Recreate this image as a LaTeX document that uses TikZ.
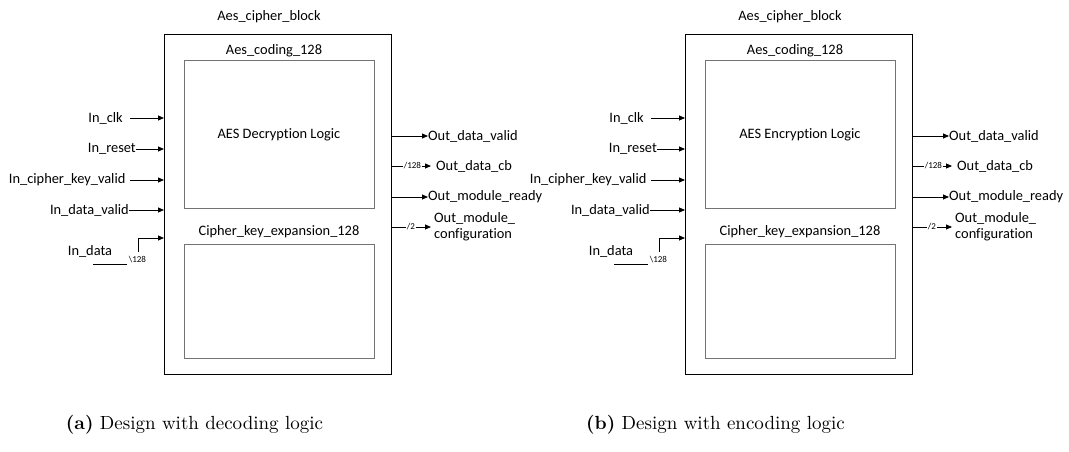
\documentclass[tikz,border=0pt]{standalone}
\usepackage{fontspec}
\newfontfamily\diagfont{Carlito}[Ligatures=NoCommon]
\newfontfamily\capfont{lmroman10-regular}[Extension=.otf, BoldFont=lmroman10-bold]
\usetikzlibrary{arrows.meta}
\tikzset{
  sig/.style={font=\diagfont\fontsize{14.4}{16}\selectfont, inner sep=0pt},
  buslbl/.style={font=\diagfont\fontsize{9}{10}\selectfont, inner sep=0.6pt},
  outerbox/.style={draw=black, line width=0.9pt, inner sep=0pt},
  innerbox/.style={draw=black!55, line width=1.1pt, inner sep=0pt},
  wire/.style={line width=0.8pt},
  arr/.style={wire, -{Triangle[length=6pt,width=5pt]}},
  figcap/.style={font=\capfont\fontsize{19}{22}\selectfont, inner sep=0pt}
}
% One cipher block with its ports; #1 name prefix, #2 horizontal offset,
% #3 logic title, #4 caption
\newcommand\aespanel[4]{%
  \begin{scope}[shift={(#2,0)}]
    \node[sig] (#1title) at (269,17) {Aes\_cipher\_block};
    \node[outerbox, anchor=north west, minimum width=227pt, minimum height=340pt] (#1blk) at (164,34) {};
    \node[innerbox, anchor=north west, minimum width=190pt, minimum height=148pt] (#1cod) at (184,60) {};
    \node[innerbox, anchor=north west, minimum width=190pt, minimum height=114pt] (#1key) at (184,244) {};
    \node[sig] (#1codlbl) at (274,51) {Aes\_coding\_128};
    \node[sig] (#1logic) at (279,135) {#3};
    \node[sig] (#1keylbl) at (279,232) {Cipher\_key\_expansion\_128};
    % inputs
    \node[sig, anchor=east] (#1clk) at (123,118) {In\_clk};
    \draw[arr] ([xshift=7pt]#1clk.east) -- (#1blk.west |- #1clk);
    \node[sig, anchor=east] (#1rst) at (136,149) {In\_reset};
    \draw[arr] (#1rst.east) -- (#1blk.west |- #1rst);
    \node[sig, anchor=east] (#1ckv) at (125.6,180) {In\_cipher\_key\_valid};
    \draw[arr] ([xshift=4.4pt]#1ckv.east) -- (#1blk.west |- #1ckv);
    \node[sig, anchor=east] (#1idv) at (129,210) {In\_data\_valid};
    \draw[arr] (#1idv.east) -- (#1blk.west |- #1idv);
    \node[sig] (#1din) at (90,251) {In\_data};
    \coordinate (#1d1) at (93,264);
    \coordinate (#1d2) at (127,264);
    \draw[wire] (#1d1) -- (#1d2);
    \node[buslbl, anchor=west] (#1b128i) at (128,260) {\textbackslash128};
    \coordinate (#1d3) at (138,252);
    \coordinate (#1d4) at (138,238);
    \draw[arr] (#1d3) -- (#1d4) -- (#1blk.west |- #1d4);
    % outputs
    \node[sig, anchor=west] (#1odv) at (428,136) {Out\_data\_valid};
    \draw[arr] (#1blk.east |- #1odv) -- (#1odv.west);
    \node[buslbl, anchor=west] (#1b128o) at (403,166) {/128};
    \node[sig, anchor=west] (#1ocb) at (436,166) {Out\_data\_cb};
    \draw[wire] (#1blk.east |- #1b128o) -- (#1b128o.west);
    \draw[arr] (#1b128o.east) -- ([xshift=-5pt]#1ocb.west);
    \node[sig, anchor=west] (#1omr) at (428,197) {Out\_module\_ready};
    \draw[arr] (#1blk.east |- #1omr) -- (#1omr.west);
    \node[buslbl, anchor=west] (#1b2) at (406,227) {/2};
    \node[sig, anchor=west, align=left] (#1omc) at (434,227) {Out\_module\_\\configuration};
    \draw[wire] (#1blk.east |- #1b2) -- (#1b2.west);
    \draw[arr] (#1b2.east) -- ([xshift=-3pt]#1omc.west);
    % caption
    \node[figcap] (#1cap) at (194.5,425) {#4};
  \end{scope}}
\begin{document}
\begin{tikzpicture}[x=1pt, y=-1pt]
  \useasboundingbox (0,0) rectangle (1069,452);
  \aespanel{a}{0}{AES Decryption Logic}{\textbf{(a)} Design with decoding logic}
  \aespanel{b}{521}{AES Encryption Logic}{\textbf{(b)} Design with encoding logic}
\end{tikzpicture}
\end{document}
